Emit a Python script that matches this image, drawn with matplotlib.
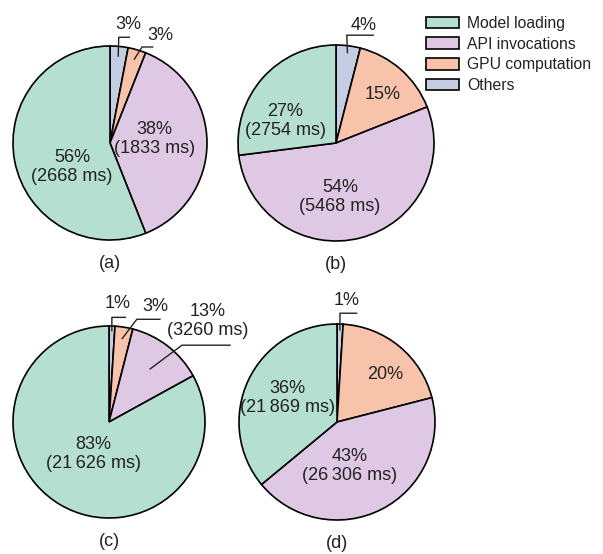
import numpy as np
import matplotlib.pyplot as plt
from matplotlib.patches import Patch

plt.rcParams['font.family'] = ['Liberation Sans', 'DejaVu Sans']

# data: share (%) and time (ms) per component, None = time not shown
categories = ['Model loading', 'API invocations', 'GPU computation', 'Others']
colors = ['#b5e0d1', '#dfc8e3', '#f7c3ab', '#c5cde2']

pct_a = [56, 38, 3, 3]
ms_a = [2668, 1833, None, None]
pct_b = [27, 54, 15, 4]
ms_b = [2754, 5468, None, None]
pct_c = [83, 13, 3, 1]
ms_c = [21626, 3260, None, None]
pct_d = [36, 43, 20, 1]
ms_d = [21869, 26306, None, None]

panels = ['(a)', '(b)', '(c)', '(d)']

# label placement in radius units: (x, y) of text, leader (elbow, end-x) or None
layout = {
    '(a)': {'center': (110, 143), 'r': 97,
            'text': [(-0.39, -0.25), (0.46, 0.04), (0.52, 1.11), (0.19, 1.22)],
            'lead': [None, None, ((0.33, 0.99), 0.44), ((0.09, 1.09), 0.20)],
            'r_in': [0, 0, 0.9, 0.9]},
    '(b)': {'center': (336, 143), 'r': 98,
            'text': [(-0.52, 0.22), (0.04, -0.55), (0.48, 0.49), (0.28, 1.20)],
            'lead': [None, None, None, ((0.11, 1.10), 0.38)],
            'r_in': [0, 0, 0, 0.93]},
    '(c)': {'center': (109, 422), 'r': 96,
            'text': [(-0.16, -0.33), (1.03, 1.05), (0.48, 1.20), (0.09, 1.23)],
            'lead': [None, ((0.76, 0.80), 1.26), ((0.29, 1.07), 0.53), ((0.03, 1.09), 0.17)],
            'r_in': [0, 0.7, 0.88, 0.95]},
    '(d)': {'center': (337, 422), 'r': 98,
            'text': [(-0.51, 0.245), (0.13, -0.45), (0.49, 0.48), (0.10, 1.24)],
            'lead': [None, None, None, ((0.03, 1.11), 0.20)],
            'r_in': [0, 0, 0, 0.94]},
}

W, H = 603, 554
fig = plt.figure(figsize=(W / 100, H / 100), dpi=100)


def fmt_ms(v):
    s = str(v)
    if v >= 10000:
        s = f'{v:,}'.replace(',', '\u2009')
    return f'({s} ms)'


def draw_pie(name, pct, ms):
    lay = layout[name]
    cx, cy = lay['center']
    r = lay['r']
    ax = fig.add_axes([(cx - r) / W, (H - cy - r) / H, 2 * r / W, 2 * r / H])
    # clockwise from the top: Others, GPU, API, Model loading
    order = [3, 2, 1, 0]
    wedges, _ = ax.pie([pct[i] for i in order], colors=[colors[i] for i in order],
                       startangle=90, counterclock=False, radius=1,
                       wedgeprops=dict(edgecolor='black', linewidth=1.2))
    ax.set_xlim(-1, 1)
    ax.set_ylim(-1, 1)
    ax.set_aspect('equal')
    ax.axis('off')

    for w, i in zip(wedges, order):
        label = f'{pct[i]}%'
        if ms[i] is not None:
            label += '\n' + fmt_ms(ms[i])
        tx, ty = lay['text'][i]
        ax.text(tx, ty, label, ha='center', va='center', fontsize=13,
                color='#222222', linespacing=1.15, clip_on=False)
        if lay['lead'][i] is not None:
            mid = np.deg2rad((w.theta1 + w.theta2) / 2)
            ri = lay['r_in'][i]
            (ex, ey), endx = lay['lead'][i]
            ax.plot([ri * np.cos(mid), ex, endx], [ri * np.sin(mid), ey, ey],
                    color='#222222', lw=1.0, clip_on=False)

    ax.text(0, -1.24, name, ha='center', va='center', fontsize=13,
            color='#222222', clip_on=False)


draw_pie('(a)', pct_a, ms_a)
draw_pie('(b)', pct_b, ms_b)
draw_pie('(c)', pct_c, ms_c)
draw_pie('(d)', pct_d, ms_d)

handles = [Patch(facecolor=c, edgecolor='black', linewidth=1.2) for c in colors]
fig.legend(handles, categories, loc='upper left', bbox_to_anchor=(426 / W, 1 - 16 / H),
           frameon=False, fontsize=11.3, handlelength=2.1, handleheight=0.78,
           handletextpad=0.5, labelspacing=0.36, borderpad=0, borderaxespad=0,
           labelcolor='#222222')

fig.savefig('out.png', dpi=100)
